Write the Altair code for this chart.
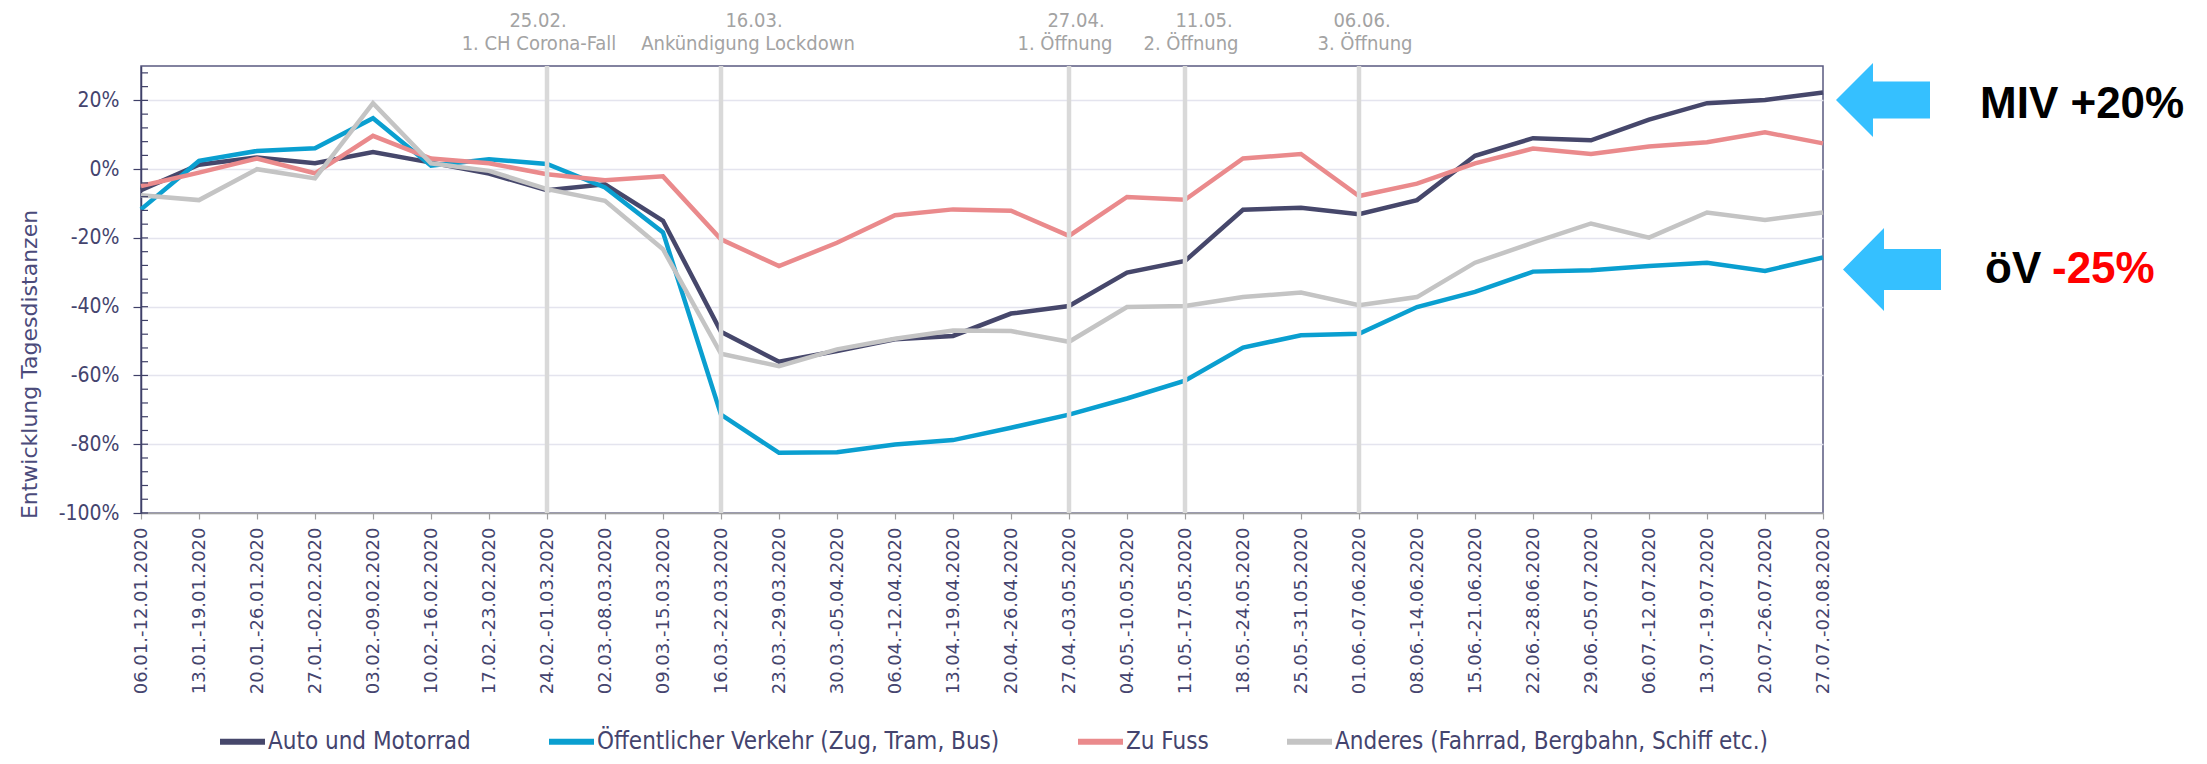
import altair as alt
import pandas as pd

# ---------------- data ----------------
weeks = [
    "06.01.-12.01.2020", "13.01.-19.01.2020", "20.01.-26.01.2020", "27.01.-02.02.2020",
    "03.02.-09.02.2020", "10.02.-16.02.2020", "17.02.-23.02.2020", "24.02.-01.03.2020",
    "02.03.-08.03.2020", "09.03.-15.03.2020", "16.03.-22.03.2020", "23.03.-29.03.2020",
    "30.03.-05.04.2020", "06.04.-12.04.2020", "13.04.-19.04.2020", "20.04.-26.04.2020",
    "27.04.-03.05.2020", "04.05.-10.05.2020", "11.05.-17.05.2020", "18.05.-24.05.2020",
    "25.05.-31.05.2020", "01.06.-07.06.2020", "08.06.-14.06.2020", "15.06.-21.06.2020",
    "22.06.-28.06.2020", "29.06.-05.07.2020", "06.07.-12.07.2020", "13.07.-19.07.2020",
    "20.07.-26.07.2020", "27.07.-02.08.2020",
]

series_names = [
    "Auto und Motorrad",
    "Öffentlicher Verkehr (Zug, Tram, Bus)",
    "Zu Fuss",
    "Anderes (Fahrrad, Bergbahn, Schiff etc.)",
]

auto = [-6.1, 1.3, 3.4, 1.7, 5.0, 1.9, -1.3, -6.1, -4.4, -15.0,
        -47.3, -56.0, -52.9, -49.5, -48.5, -42.0, -39.8, -30.1, -26.7, -11.8,
        -11.2, -13.1, -9.0, 3.9, 9.0, 8.4, 14.4, 19.2, 20.1, 22.3]
oev = [-11.7, 2.4, 5.3, 6.1, 14.8, 1.0, 2.9, 1.5, -5.3, -18.4,
       -71.4, -82.5, -82.3, -80.1, -78.8, -75.2, -71.4, -66.7, -61.5, -51.9,
       -48.3, -47.9, -40.1, -35.7, -29.8, -29.4, -28.2, -27.2, -29.6, -25.7]
fuss = [-4.9, -1.0, 3.1, -1.2, 9.7, 3.1, 1.7, -1.5, -3.2, -2.1,
        -20.4, -28.2, -21.4, -13.4, -11.7, -12.1, -19.4, -8.1, -8.9, 3.1,
        4.4, -7.8, -4.2, 1.7, 6.0, 4.4, 6.6, 7.8, 10.7, 7.5]
anderes = [-7.6, -9.0, 0.0, -2.7, 19.2, 1.7, -0.5, -5.8, -9.2, -23.3,
           -53.7, -57.3, -52.4, -49.3, -46.9, -47.1, -50.2, -40.1, -39.8, -37.2,
           -35.9, -39.6, -37.2, -27.2, -21.4, -15.8, -19.9, -12.6, -14.8, -12.6]

ann_weeks = ["24.02.-01.03.2020", "16.03.-22.03.2020", "27.04.-03.05.2020",
             "11.05.-17.05.2020", "01.06.-07.06.2020"]
ann_dates = ["25.02.", "16.03.", "27.04.", "11.05.", "06.06."]
ann_labels = ["1. CH Corona-Fall", "Ankündigung Lockdown", "1. Öffnung",
              "2. Öffnung", "3. Öffnung"]

y_ticks = [-100, -80, -60, -40, -20, 0, 20]
minor_ticks = [-100, -96, -92, -88, -84, -80, -76, -72, -68, -64, -60, -56, -52,
               -48, -44, -40, -36, -32, -28, -24, -20, -16, -12, -8, -4, 0,
               4, 8, 12, 16, 20, 24, 28]

# ---------------- layout / style ----------------
W, H = 1682, 447
NAVY = "#3f4068"
TXT = "#44446e"
colors = ["#46476b", "#0a9fd0", "#ea8a8c", "#c4c4c4"]
ANN = "#a3a3a3"
ARROW = "#35c0ff"
ann_dx1 = [-9, 33, 7, 19, 3]
ann_dx2 = [-8, 27, -4, 6, 6]

rows = []
for name, vals in zip(series_names, [auto, oev, fuss, anderes]):
    for w, v in zip(weeks, vals):
        rows.append({"week": w, "series": name, "value": v})
df = pd.DataFrame(rows)

xscale = alt.Scale(type="point", padding=0, domain=weeks)
yscale = alt.Scale(domain=[-100, 30], nice=False, zero=False)

x_axis = alt.Axis(
    title=None, labelAngle=-90, labelFont="DejaVu Sans",
    labelFontSize=18, labelColor=TXT, tickSize=6, tickColor="#a0a0a0", tickWidth=1.2,
    domainColor="#a0a0a0", domainWidth=1.5, labelPadding=8, grid=False,
    labelOverlap=False,
)
y_axis = alt.Axis(
    values=y_ticks, labelExpr="datum.value + '%'", tickSize=8, tickColor=NAVY,
    tickWidth=1.2, domainColor=NAVY, domainWidth=1.5, gridColor="#e4e4ee",
    gridWidth=1.5, labelFont="DejaVu Sans Condensed", labelFontSize=21,
    labelColor=TXT, labelPadding=14,
    title="Entwicklung Tagesdistanzen", titleFont="DejaVu Sans", titleFontSize=22,
    titleFontWeight="normal", titleColor="#4b4b7b", titleAngle=270,
    titleX=-105, titleY=298, titleAlign="center", titleBaseline="alphabetic",
)

X = alt.X("week:O", scale=xscale, axis=x_axis, sort=weeks)

lines = alt.Chart(df).mark_line(strokeWidth=4.5, strokeJoin="miter").encode(
    x=X,
    y=alt.Y("value:Q", scale=yscale, axis=y_axis),
    color=alt.Color(
        "series:N",
        scale=alt.Scale(domain=series_names, range=colors),
        sort=series_names,
        legend=alt.Legend(
            title=None, orient="none", legendX=76, legendY=650,
            direction="horizontal", columns=4, symbolType="stroke",
            symbolStrokeWidth=6, symbolSize=2025, labelFont="DejaVu Sans Condensed",
            labelFontSize=24, labelColor=TXT, columnPadding=66, labelOffset=0,
            labelLimit=0, padding=0,
        ),
    ),
)

minor = alt.Chart(pd.DataFrame({"t": minor_ticks})).mark_rule(
    color=NAVY, strokeWidth=1.2
).encode(
    y=alt.Y("t:Q", scale=yscale, axis=y_axis),
    x=alt.value(0), x2=alt.value(7),
)

ann_df = pd.DataFrame({"week": ann_weeks, "date": ann_dates, "label": ann_labels})

vlines = alt.Chart(ann_df).mark_rule(color="#d9d9d9", strokeWidth=4.5).encode(x=X)

ann_layers = []
for i in range(len(ann_weeks)):
    sub = ann_df.iloc[[i]]
    ann_layers.append(
        alt.Chart(sub).mark_text(
            font="DejaVu Sans Condensed", fontSize=20, color=ANN, dx=ann_dx1[i],
            align="center", baseline="middle",
        ).encode(x=X, y=alt.value(-45), text="date:N")
    )
    ann_layers.append(
        alt.Chart(sub).mark_text(
            font="DejaVu Sans Condensed", fontSize=20, color=ANN, dx=ann_dx2[i],
            align="center", baseline="middle",
        ).encode(x=X, y=alt.value(-22), text="label:N")
    )

one = pd.DataFrame({"k": [0]})
arrow1 = "M -1 0 L -0.213 -0.787 L -0.213 -0.394 L 1 -0.394 L 1 0.394 L -0.213 0.394 L -0.213 0.787 Z"
arrow2 = "M -1 0 L -0.163 -0.847 L -0.163 -0.418 L 1 -0.418 L 1 0.418 L -0.163 0.418 L -0.163 0.847 Z"

a1 = alt.Chart(one).mark_point(shape=arrow1, filled=True, size=94 * 94, color=ARROW,
                               opacity=1, strokeWidth=0).encode(
    x=alt.value(1742), y=alt.value(34))
a2 = alt.Chart(one).mark_point(shape=arrow2, filled=True, size=98 * 98, color=ARROW,
                               opacity=1, strokeWidth=0).encode(
    x=alt.value(1751), y=alt.value(203.5))

t1 = alt.Chart(one).mark_text(text="MIV +20%", font="Liberation Sans", fontWeight="bold",
                              fontSize=44, align="left", baseline="alphabetic",
                              color="#000000").encode(x=alt.value(1839), y=alt.value(52))
t2 = alt.Chart(one).mark_text(text="öV", font="Liberation Sans", fontWeight="bold",
                              fontSize=44, align="left", baseline="alphabetic",
                              color="#000000").encode(x=alt.value(1844), y=alt.value(217))
t3 = alt.Chart(one).mark_text(text="-25%", font="Liberation Sans", fontWeight="bold",
                              fontSize=44, align="left", baseline="alphabetic",
                              color="#ff0000").encode(x=alt.value(1911), y=alt.value(217))

chart = alt.layer(
    lines, minor, vlines, *ann_layers, a1, a2, t1, t2, t3
).properties(
    width=W, height=H,
    autosize=alt.AutoSizeParams(type="none"),
    padding={"left": 133, "top": 58, "right": 376, "bottom": 243},
    background="#ffffff",
).configure_view(
    stroke="#5a5a80", strokeWidth=1.5,
)

chart.save("out.html", embed_options={"renderer": "svg", "actions": False})
